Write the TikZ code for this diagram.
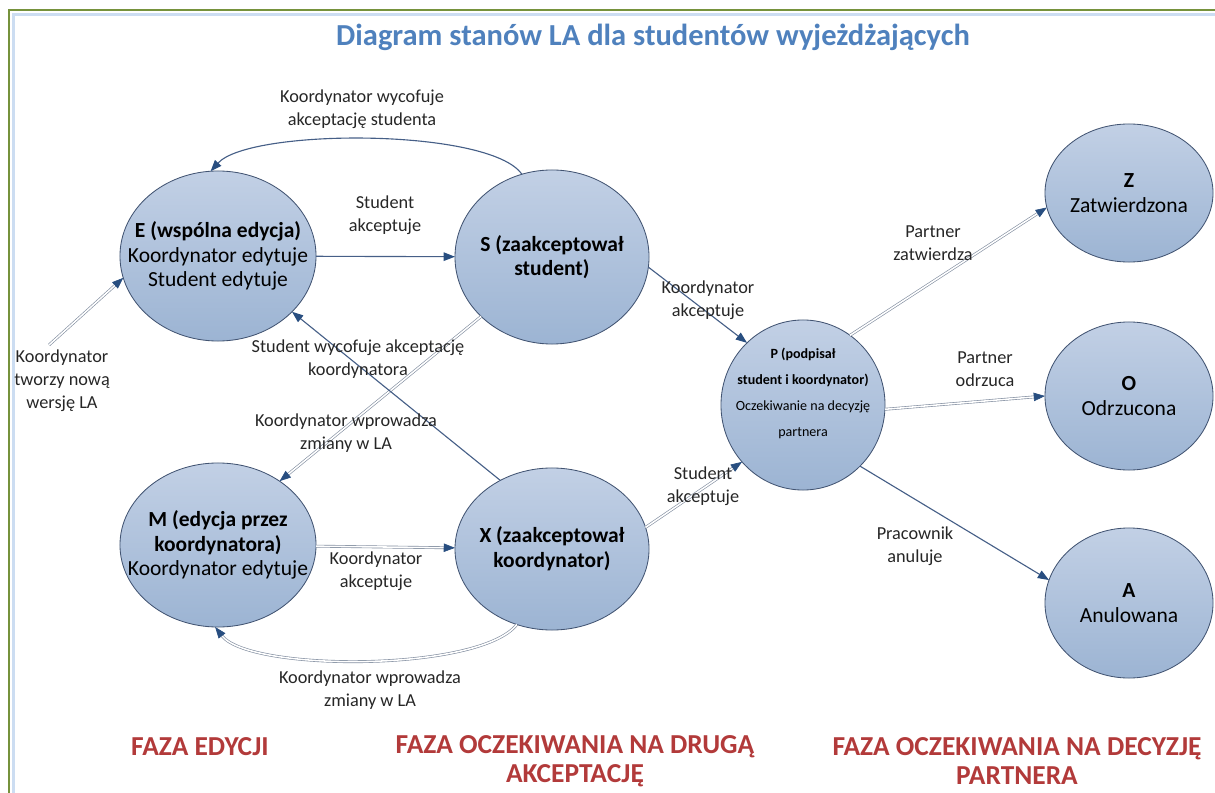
\documentclass[tikz,border=0pt]{standalone}
\usepackage{fontspec}
\setmainfont{Carlito}
\usetikzlibrary{calc,shapes.geometric,arrows.meta}

\definecolor{titleblue}{RGB}{79,129,189}
\definecolor{phasered}{RGB}{178,58,58}
\definecolor{framegreen}{RGB}{118,146,60}
\definecolor{framelight}{RGB}{204,221,242}
\definecolor{statetop}{RGB}{194,208,229}
\definecolor{statebottom}{RGB}{156,180,211}
\definecolor{stateborder}{RGB}{66,84,114}
\definecolor{linecol}{RGB}{70,95,135}
\definecolor{linegray}{RGB}{130,142,160}
\definecolor{arrowblue}{RGB}{40,78,128}

\begin{document}
\begin{tikzpicture}[x=0.025cm,y=-0.025cm,inner sep=0pt,outer sep=0pt,
    state/.style={ellipse, draw=stateborder, line width=0.6pt, top color=statetop,
      bottom color=statebottom},
    statetext/.style={align=center, font=\fontsize{15.3}{17.5}\selectfont},
    lbl/.style={align=center, font=\fontsize{13}{16.5}\selectfont, text=black!85},
    phase/.style={align=center, font=\fontsize{19.5}{20.5}\selectfont\bfseries, text=phasered},
    link/.style={draw=linecol, line width=0.8pt,
      -{Triangle[length=8pt,width=6pt,color=arrowblue]}},
    dbl/.style={draw=linegray, line width=0.45pt, double=white, double distance=1.1pt,
      -{Triangle[length=8pt,width=6pt,color=arrowblue]}}]
    \useasboundingbox (0,0) rectangle (1215,793);

    % frame
    \draw[framegreen, line width=1.4pt] (1215,10) -- (9,10) -- (9,793);
    \draw[framelight, line width=2pt] (1215,14.5) -- (13.5,14.5) -- (13.5,793);

    % title
    \node[font=\fontsize{21.7}{25}\selectfont\bfseries, text=titleblue] (title) at (653,37)
    {Diagram stanów LA dla studentów wyjeżdżających};

    % states
    \node[state, minimum width=4.9cm, minimum height=4.25cm,
      label={[statetext]center:\textbf{E (wspólna edycja)}\\ Koordynator edytuje\\ Student edytuje}]
      (e_state) at (218,256) {};
    \node[state, minimum width=4.85cm, minimum height=4.35cm,
      label={[statetext]center:\textbf{S (zaakceptował}\\ \textbf{student)}}]
      (s_state) at (552,257) {};
    \node[state, minimum width=4.9cm, minimum height=4.1cm,
      label={[statetext]center:\textbf{M (edycja przez}\\ \textbf{koordynatora)}\\ Koordynator edytuje}]
      (m_state) at (218,545) {};
    \node[state, minimum width=4.85cm, minimum height=4.05cm,
      label={[statetext]center:\textbf{X (zaakceptował}\\ \textbf{koordynator)}}]
      (x_state) at (552,549) {};
    \node[state, minimum width=4.1cm, minimum height=4.25cm,
      label={[statetext, font=\fontsize{10}{18.5}\selectfont, yshift=8pt]center:
        \textbf{P (podpisał}\\ \textbf{student i koordynator)}\\ Oczekiwanie na decyzję\\ partnera}]
      (p_state) at (803,405) {};
    \node[state, minimum width=4.2cm, minimum height=3.45cm,
      label={[statetext, font=\fontsize{15.3}{18}\selectfont]center:\textbf{Z}\\ Zatwierdzona}]
      (z_state) at (1129,193) {};
    \node[state, minimum width=4.2cm, minimum height=3.7cm,
      label={[statetext, font=\fontsize{15.3}{18}\selectfont]center:\textbf{O}\\ Odrzucona}]
      (o_state) at (1129,396) {};
    \node[state, minimum width=4.2cm, minimum height=3.75cm,
      label={[statetext, font=\fontsize{15.3}{18}\selectfont]center:\textbf{A}\\ Anulowana}]
      (a_state) at (1129,603) {};

    % transitions
    \coordinate (new_la) at (49,345);
    \draw[dbl] (new_la) -- (e_state.193);
    \draw[link] (e_state) -- (s_state);
    \draw[link] (s_state.110) .. controls (490,128) and (250,128) .. (e_state.95);
    \draw[link] (s_state.354) -- (p_state.132);
    \draw[dbl] (s_state.220) -- (m_state.46);
    \draw[link] (x_state.127) -- (e_state.323);
    \draw[dbl] (m_state) -- (x_state);
    \draw[dbl] (x_state.245) .. controls (480,672) and (250,672) .. (m_state.268);
    \draw[dbl] (x_state.13) -- (p_state.223);
    \draw[dbl] (p_state.56) -- (z_state.190);
    \draw[dbl] (p_state.357) -- (o_state.180);
    \draw[link] (p_state.313) -- (a_state.164);

    % transition labels
    \node[lbl] (new_la_lbl) at (62,381) {Koordynator\\ tworzy nową\\ wersję LA};
    \node[lbl] (e_s_lbl) at (385,215) {Student\\ akceptuje};
    \node[lbl] (s_e_lbl) at (362,109) {Koordynator wycofuje\\ akceptację studenta};
    \node[lbl] (s_p_lbl) at (708,300) {Koordynator\\ akceptuje};
    \node[lbl] (x_e_lbl) at (358,359) {Student wycofuje akceptację\\ koordynatora};
    \node[lbl] (s_m_lbl) at (346,433) {Koordynator wprowadza\\ zmiany w LA};
    \node[lbl] (m_x_lbl) at (376,571) {Koordynator\\ akceptuje};
    \node[lbl] (x_m_lbl) at (370,690) {Koordynator wprowadza\\ zmiany w LA};
    \node[lbl] (x_p_lbl) at (703,486) {Student\\ akceptuje};
    \node[lbl] (p_z_lbl) at (933,243) {Partner\\ zatwierdza};
    \node[lbl] (p_o_lbl) at (985,369) {Partner\\ odrzuca};
    \node[lbl] (p_a_lbl) at (915,546) {Pracownik\\ anuluje};

    % phases
    \node[phase] (edit_phase) at (200,747) {FAZA EDYCJI};
    \node[phase] (second_phase) at (575,761)
    {FAZA OCZEKIWANIA NA DRUGĄ\\ AKCEPTACJĘ};
    \node[phase] (partner_phase) at (1017,761)
    {FAZA OCZEKIWANIA NA DECYZJĘ\\ PARTNERA};
\end{tikzpicture}
\end{document}
